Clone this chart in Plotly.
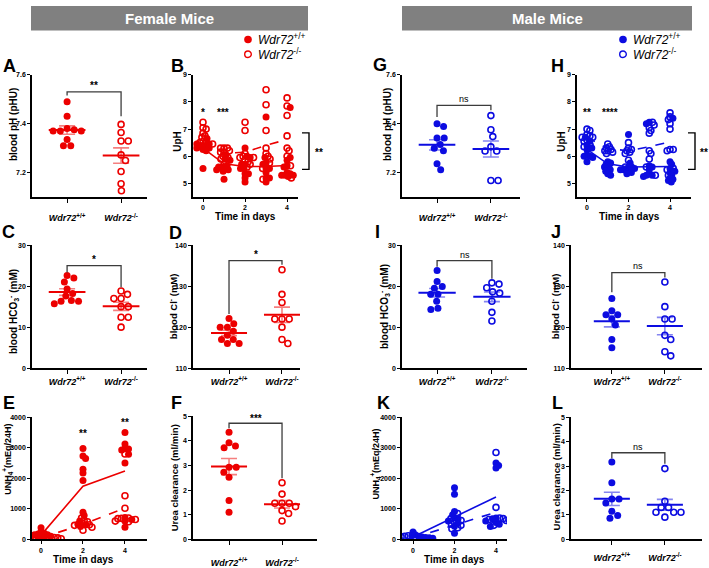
import numpy as np
import plotly.graph_objects as go

W, H = 709, 568
FONT = "Liberation Sans, Arial, Helvetica, sans-serif"
RED = "rgb(236,0,0)"
RED_L = "rgba(236,0,0,0.5)"
BLUE = "rgb(12,12,225)"
BLUE_L = "rgba(12,12,225,0.5)"

# ---------------- data ----------------
genotypes = ["+/+", "-/-"]
days_ph = [0, 1, 2, 3, 4]
days_nh4 = [0, 2, 4]

# Female
A_wt = [7.49, 7.43, 7.375, 7.37, 7.37, 7.37, 7.38, 7.335, 7.31, 7.31]
A_ko = [7.397, 7.364, 7.329, 7.329, 7.272, 7.249, 7.204, 7.154, 7.125]
C_wt = [22.0, 22.6, 21.0, 19.3, 17.6, 18.2, 15.7, 16.3, 16.3, 16.5]
C_ko = [18.8, 18.0, 17.0, 17.0, 15.0, 15.0, 12.4, 12.4, 10.0]
D_wt = [120.8, 122.1, 119.0, 120.0, 120.0, 118.0, 117.0, 117.0, 116.0, 116.0]
D_ko = [134.0, 128.0, 126.0, 122.0, 122.0, 122.0, 120.0, 117.0, 116.0]
F_wt = [4.35, 3.93, 3.72, 3.8, 2.93, 2.93, 2.73, 2.53, 1.58, 1.1]
F_ko = [2.3, 1.84, 1.47, 1.47, 1.47, 1.33, 1.17, 1.05, 0.75]

B_wt = [
    [6.65, 6.45, 6.4, 6.35, 6.35, 6.3, 6.3, 6.25, 6.2, 6.45, 5.55],
    [6.05, 5.9, 5.85, 5.65, 5.6, 5.6, 5.55, 5.5, 5.5, 5.45, 5.15],
    [6.3, 6.0, 5.95, 5.7, 5.7, 5.55, 5.55, 5.35, 5.35, 5.2, 5.05],
    [7.45, 5.95, 5.75, 5.7, 5.55, 5.55, 5.4, 5.2, 5.2, 5.05],
    [7.8, 5.95, 5.85, 5.65, 5.6, 5.4, 5.35, 5.3, 5.3, 5.25, 5.3],
]
B_ko = [
    [7.25, 7.05, 7.0, 6.85, 6.75, 6.7, 6.55, 6.5, 6.5, 6.45],
    [6.3, 6.3, 6.3, 6.2, 6.15, 6.15, 6.0, 5.95, 5.9, 5.7],
    [7.25, 6.95, 6.1, 6.0, 5.95, 5.95, 5.85, 5.8, 5.7, 5.6],
    [8.45, 7.9, 6.95, 6.3, 6.1, 6.0, 5.9, 5.75, 5.55, 5.15],
    [8.15, 7.85, 7.5, 6.75, 6.3, 6.2, 6.0, 5.65, 5.2],
]
B_wt_mean = [6.3, 5.72, 5.62, 5.62, 5.66]
B_ko_mean = [6.6, 6.1, 6.15, 6.4, 6.62]

E_wt = [
    [380, 250, 200, 150, 120, 100, 80, 60, 50, 150, 180],
    [2980, 2730, 2650, 2300, 2180, 1930, 890, 780, 600, 500, 480, 420],
    [3500, 3130, 2980, 2960, 2930, 2790, 2500, 720, 650, 600, 400],
]
E_ko = [
    [120, 80, 60, 50, 40, 30, 30, 20],
    [700, 620, 580, 520, 480, 460, 400, 300],
    [2800, 1430, 1020, 700, 690, 680, 650, 600, 580],
]
E_wt_mean = [140, 1740, 2240]
E_ko_mean = [50, 490, 1030]

# Male
G_wt = [7.388, 7.4, 7.341, 7.341, 7.315, 7.299, 7.289, 7.236, 7.211]
G_ko = [7.433, 7.375, 7.347, 7.305, 7.288, 7.288, 7.167, 7.167]
I_wt = [23.8, 21.1, 19.9, 19.5, 18.0, 18.0, 16.3, 14.3, 14.6]
I_ko = [20.5, 20.8, 19.6, 18.6, 18.3, 16.3, 13.6, 11.5]
J_wt = [127.0, 124.0, 123.0, 123.0, 122.0, 120.5, 117.0, 115.0]
J_ko = [131.0, 125.0, 122.0, 122.0, 118.0, 117.0, 114.0, 113.0]
L_wt = [3.17, 2.32, 1.65, 1.65, 1.49, 1.15, 0.87, 0.98]
L_ko = [2.9, 1.56, 1.31, 1.31, 1.11, 1.11, 1.11, 0.91]

H_wt = [
    [6.7, 6.55, 6.4, 6.3, 6.25, 6.05, 6.0, 6.0, 5.8, 5.95],
    [5.8, 5.75, 5.7, 5.65, 5.6, 5.55, 5.5, 5.45, 5.35, 5.3],
    [6.8, 5.75, 5.6, 5.55, 5.5, 5.5, 5.45, 5.4, 5.35, 5.6],
    [7.25, 7.2, 5.65, 5.6, 5.5, 5.35, 5.3, 5.3, 5.25],
    [7.4, 5.8, 5.7, 5.55, 5.45, 5.4, 5.3, 5.2, 5.1, 5.05, 5.15],
]
H_ko = [
    [7.0, 6.95, 6.8, 6.75, 6.7, 6.6, 6.55, 6.4, 6.35, 6.7],
    [6.45, 6.35, 6.3, 6.25, 6.2, 6.2, 6.15, 6.1],
    [6.5, 6.3, 6.25, 6.2, 6.15, 6.1, 5.85, 5.6],
    [7.25, 7.15, 7.05, 6.95, 6.85, 6.2, 6.1, 5.9, 5.6, 5.3],
    [7.6, 7.45, 7.35, 7.2, 7.0, 6.25, 6.25, 6.2, 5.55, 5.5, 5.3],
]
H_wt_mean = [6.25, 5.72, 5.6, 5.62, 5.62]
H_ko_mean = [6.7, 6.28, 6.2, 6.35, 6.53]

K_wt = [
    [240, 150, 120, 100, 80, 60, 50, 40],
    [1690, 1480, 910, 810, 700, 680, 600, 520, 430, 200],
    [2500, 2420, 2340, 700, 680, 600, 550, 500, 420],
]
K_ko = [
    [120, 100, 80, 60, 50, 40, 30],
    [850, 680, 620, 560, 500, 460, 380, 350],
    [2850, 1050, 700, 680, 650, 620, 600, 460],
]
K_wt_line = [80, 730, 1390]
K_ko_line = [50, 470, 890]

# ---------------- layout geometry (pixels) ----------------
P = {
    1: dict(x=(32, 147), y=(72, 196), xr=(-0.65, 1.48), yr=(7.1, 7.6), yt=[7.2, 7.4, 7.6]),
    2: dict(x=(193, 298), y=(72, 196), xr=(-0.476, 4.52), yr=(4.5, 9), yt=[5, 6, 7, 8, 9]),
    3: dict(x=(32, 147), y=(245, 370), xr=(-0.65, 1.48), yr=(0, 30), yt=[0, 10, 20, 30]),
    4: dict(x=(193, 300), y=(245, 370), xr=(-0.68, 1.34), yr=(110, 140), yt=[110, 120, 130, 140]),
    5: dict(x=(32, 147), y=(420, 544), xr=(-0.43, 5.05), yr=(0, 4000), yt=[0, 1000, 2000, 3000, 4000]),
    6: dict(x=(193, 317), y=(419, 544), xr=(-0.68, 1.66), yr=(0, 5), yt=[0, 1, 2, 3, 4, 5]),
    7: dict(x=(402, 520), y=(72, 196), xr=(-0.65, 1.54), yr=(7.1, 7.6), yt=[7.2, 7.4, 7.6]),
    8: dict(x=(577, 691), y=(72, 196), xr=(-0.48, 5.01), yr=(4.5, 9), yt=[5, 6, 7, 8, 9]),
    9: dict(x=(402, 527), y=(245, 370), xr=(-0.64, 1.64), yr=(0, 30), yt=[0, 10, 20, 30]),
    10: dict(x=(571, 702), y=(245, 370), xr=(-0.77, 1.7), yr=(110, 140), yt=[110, 120, 130, 140]),
    11: dict(x=(402, 507), y=(420, 544), xr=(-0.53, 4.53), yr=(0, 4000), yt=[0, 1000, 2000, 3000, 4000]),
    12: dict(x=(571, 702), y=(420, 544), xr=(-0.77, 1.7), yr=(0, 5), yt=[0, 1, 2, 3, 4, 5]),
}


def px(x):
    return x / W


def py(y):
    return 1 - y / H


def axn(i):
    return ("x" if i == 1 else f"x{i}"), ("y" if i == 1 else f"y{i}")


def swarm(vals, i, d):
    """Beeswarm offsets (in x data units) for values in panel i."""
    p = P[i]
    ypu = (p["y"][1] - p["y"][0]) / (p["yr"][1] - p["yr"][0])
    xpu = (p["x"][1] - p["x"][0]) / (p["xr"][1] - p["xr"][0])
    vals = np.asarray(vals, float)
    order = np.argsort(-vals, kind="stable")
    placed = []
    off = np.zeros(len(vals))
    for k in order:
        yv = vals[k] * ypu
        cands = [0.0]
        for (yj, xj) in placed:
            dy = abs(yv - yj)
            if dy < d:
                dx = np.sqrt(d * d - dy * dy)
                cands += [xj + dx, xj - dx]
        cands.sort(key=lambda c: (abs(c), -c))
        chosen = 0.0
        for c in cands:
            if all((c - xj) ** 2 + (yv - yj) ** 2 >= d * d - 1e-6 for (yj, xj) in placed):
                chosen = c
                break
        placed.append((yv, chosen))
        off[k] = chosen / xpu
    return off


fig = go.Figure()


def pts(i, x, y, color, filled, size=7):
    xa, ya = axn(i)
    if filled:
        mk = dict(symbol="circle", size=size, color=color, line=dict(width=0))
    else:
        mk = dict(symbol="circle-open", size=size - 1, color=color, line=dict(width=1.6, color=color))
    fig.add_trace(go.Scatter(x=x, y=y, mode="markers", marker=mk, xaxis=xa, yaxis=ya,
                             showlegend=False, hoverinfo="skip"))


def dot_panel(i, wt, ko, color, light):
    xa, ya = axn(i)
    for c, vals, filled in [(0, wt, True), (1, ko, False)]:
        off = swarm(vals, i, 7.2)
        pts(i, c + off, vals, color, filled)
    for c, vals in [(0, wt), (1, ko)]:
        v = np.asarray(vals, float)
        m = v.mean()
        sem = v.std(ddof=1) / np.sqrt(len(v))
        fig.add_trace(go.Scatter(x=[c], y=[m], mode="markers", marker=dict(size=0.1, color=light),
                                 error_y=dict(type="data", array=[sem], color=light, thickness=1.6, width=8),
                                 xaxis=xa, yaxis=ya, showlegend=False, hoverinfo="skip"))
        fig.add_trace(go.Scatter(x=[c - 0.34, c + 0.34], y=[m, m], mode="lines",
                                 line=dict(color=color, width=2), xaxis=xa, yaxis=ya,
                                 showlegend=False, hoverinfo="skip"))


def time_panel(i, days, wt, ko, wt_line, ko_line, color, d):
    xa, ya = axn(i)
    for k, day in enumerate(days):
        vals = list(wt[k]) + list(ko[k])
        off = swarm(vals, i, d)
        n = len(wt[k])
        pts(i, day + off[:n], wt[k], color, True)
        pts(i, day + off[n:], ko[k], color, False)
    fig.add_trace(go.Scatter(x=days, y=wt_line, mode="lines", line=dict(color=color, width=1.6),
                             xaxis=xa, yaxis=ya, showlegend=False, hoverinfo="skip"))
    fig.add_trace(go.Scatter(x=days, y=ko_line, mode="lines", line=dict(color=color, width=1.6, dash="dash"),
                             xaxis=xa, yaxis=ya, showlegend=False, hoverinfo="skip"))


dot_panel(1, A_wt, A_ko, RED, RED_L)
time_panel(2, days_ph, B_wt, B_ko, B_wt_mean, B_ko_mean, RED, 3.4)
dot_panel(3, C_wt, C_ko, RED, RED_L)
dot_panel(4, D_wt, D_ko, RED, RED_L)
time_panel(5, days_nh4, E_wt, E_ko, E_wt_mean, E_ko_mean, RED, 3.6)
dot_panel(6, F_wt, F_ko, RED, RED_L)
dot_panel(7, G_wt, G_ko, BLUE, BLUE_L)
time_panel(8, days_ph, H_wt, H_ko, H_wt_mean, H_ko_mean, BLUE, 3.2)
dot_panel(9, I_wt, I_ko, BLUE, BLUE_L)
dot_panel(10, J_wt, J_ko, BLUE, BLUE_L)
time_panel(11, days_nh4, K_wt, K_ko, K_wt_line, K_ko_line, BLUE, 3.6)
dot_panel(12, L_wt, L_ko, BLUE, BLUE_L)

# ---------------- axes ----------------
cat_text = ["<i>Wdr72</i><sup>+/+</sup>", "<i>Wdr72</i><sup>-/-</sup>"]
time_panels = {2, 5, 8, 11}
cat_standoff = {1: 8, 3: 0, 4: 0, 6: 10, 7: 8, 9: 0, 10: 0, 12: 5}
layout = dict(width=W, height=H, margin=dict(l=0, r=0, t=0, b=0),
              paper_bgcolor="white", plot_bgcolor="white",
              font=dict(family=FONT, color="black"), showlegend=False)
for i, p in P.items():
    xs = "xaxis" if i == 1 else f"xaxis{i}"
    ys = "yaxis" if i == 1 else f"yaxis{i}"
    xa, ya = axn(i)
    common = dict(showline=True, linecolor="black", linewidth=1.6, ticks="outside", ticklen=4,
                  tickwidth=1.4, tickcolor="black", showgrid=False, zeroline=False, fixedrange=True)
    xd = dict(common, domain=[px(p["x"][0]), px(p["x"][1])], range=list(p["xr"]), anchor=ya)
    if i in time_panels:
        xd.update(tickvals=[0, 2, 4], ticktext=["0", "2", "4"], ticklen=3,
                  tickfont=dict(size=7, weight="bold", family=FONT))
    else:
        xd.update(tickvals=[0, 1], ticktext=cat_text, ticklabelstandoff=cat_standoff[i],
                  tickfont=dict(size=9, weight="bold", family=FONT))
    yd = dict(common, domain=[py(p["y"][1]), py(p["y"][0])], range=list(p["yr"]), anchor=xa,
              tickvals=p["yt"], tickfont=dict(size=7, weight="bold", family=FONT), ticklen=3)
    layout[xs] = xd
    layout[ys] = yd

fig.update_layout(**layout)

shapes = []
ann = []


def A(**kw):
    d = dict(showarrow=False, xanchor="center", yanchor="middle")
    d.update(kw)
    ann.append(d)


# header bars
for (x0, x1, label) in [(31, 308, "Female Mice"), (402, 692, "Male Mice")]:
    shapes.append(dict(type="rect", xref="paper", yref="paper", x0=px(x0), x1=px(x1), y0=py(27), y1=py(2),
                       fillcolor="rgb(128,128,128)", line=dict(width=0), layer="below"))
    A(xref="paper", yref="paper", x=px((x0 + x1) / 2), y=py(15), text=f"<b>{label}</b>",
      font=dict(size=15, color="white", family=FONT))

# legends
for (mx, color) in [(248, RED), (623, BLUE)]:
    r = 3.8
    shapes.append(dict(type="circle", xref="paper", yref="paper", x0=px(mx - r), x1=px(mx + r),
                       y0=py(36 + r), y1=py(36 - r), fillcolor=color, line=dict(width=0)))
    r = 3.3
    shapes.append(dict(type="circle", xref="paper", yref="paper", x0=px(mx - r), x1=px(mx + r),
                       y0=py(51 + r), y1=py(51 - r), fillcolor="white", line=dict(width=1.4, color=color)))
    for yy, t in [(36, cat_text[0]), (51, cat_text[1])]:
        A(xref="paper", yref="paper", x=px(mx + 8), y=py(yy), text=t, xanchor="left",
          font=dict(size=12, family=FONT))

# panel letters
letters = [("A", 9, 63), ("B", 177, 63), ("C", 8, 232), ("D", 175, 233), ("E", 9, 405), ("F", 176, 405),
           ("G", 380, 62), ("H", 557, 63), ("I", 378, 232), ("J", 556, 232), ("K", 383, 405), ("L", 557, 405)]
for t, x, y in letters:
    A(xref="paper", yref="paper", x=px(x), y=py(y), text=f"<b>{t}</b>", font=dict(size=18, family=FONT))

# y axis titles
ytitles = [
    ("blood pH (pHU)", 13, 123, 10), ("UpH", 178, 140, 10),
    ("blood HCO<sub>3</sub><sup>-</sup> (mM)", 13, 313, 10), ("blood Cl<sup>-</sup> (mM)", 173, 307, 9.5),
    ("UNH<sub>4</sub><sup>+</sup>(mEq/24H)", 8, 463, 9), ("Urea clearance (ml/min)", 174, 482, 9.5),
    ("blood pH (pHU)", 387, 123, 10), ("UpH", 562, 140, 10),
    ("blood HCO<sub>3</sub><sup>-</sup> (mM)", 384, 308, 10), ("blood Cl<sup>-</sup> (mM)", 555, 307, 9.5),
    ("UNH<sub>4</sub><sup>+</sup>(mEq/24H)", 376, 467, 9), ("Urea clearance (ml/min)", 556, 481, 9.5),
]
for t, x, y, s in ytitles:
    A(xref="paper", yref="paper", x=px(x), y=py(y), text=f"<b>{t}</b>", textangle=-90,
      font=dict(size=s, family=FONT))

# x titles
for x, y in [(245, 215.5), (629, 215.5), (83, 564.5), (454, 564.5)]:
    A(xref="paper", yref="paper", x=px(x), y=py(y), text="<b>Time in days</b>", font=dict(size=10, family=FONT))

# significance brackets (data coords): panel, top, left bottom, right bottom, text y, text, bold
brackets = [
    (1, 7.53, 7.515, 7.43, 7.556, "**", True),
    (3, 25.0, 23.3, 19.7, 26.4, "*", True),
    (4, 136.2, 123.2, 135.2, 137.6, "*", True),
    (6, 4.72, 4.52, 2.48, 4.93, "***", True),
    (7, 7.475, 7.427, 7.455, 7.5, "ns", False),
    (9, 26.2, 24.7, 21.8, 27.6, "ns", False),
    (10, 133.3, 128.5, 132.1, 134.8, "ns", False),
    (12, 3.55, 3.31, 3.1, 3.8, "ns", False),
]
for i, top, lb, rb, ty, t, bold in brackets:
    xa, ya = axn(i)
    shapes.append(dict(type="path", xref=xa, yref=ya,
                       path=f"M 0,{lb} L 0,{top} L 1,{top} L 1,{rb}",
                       line=dict(color="rgb(60,60,60)", width=1.3)))
    A(xref=xa, yref=ya, x=0.5, y=ty, text=(f"<b>{t}</b>" if bold else t),
      font=dict(size=10 if bold else 9, family=FONT))

# side brackets on B and H (paper)
for xv, tx in [(309, 319), (695, 704)]:
    shapes.append(dict(type="path", xref="paper", yref="paper",
                       path=f"M {px(xv-7)},{py(131)} L {px(xv)},{py(131)} L {px(xv)},{py(168)} L {px(xv-7)},{py(168)}",
                       line=dict(color="black", width=1.4)))
    A(xref="paper", yref="paper", x=px(tx), y=py(151), text="<b>**</b>", font=dict(size=10, family=FONT))

# asterisks on time courses
stars = [(2, 0, 7.62, "*"), (2, 0.97, 7.62, "***"), (8, 0, 7.62, "**"), (8, 1.1, 7.62, "****"),
         (5, 2, 3480, "**"), (5, 4, 3840, "**")]
for i, x, y, t in stars:
    xa, ya = axn(i)
    A(xref=xa, yref=ya, x=x, y=y, text=f"<b>{t}</b>", font=dict(size=10, family=FONT))

fig.update_layout(shapes=shapes, annotations=ann)
fig.write_html("out.html")
